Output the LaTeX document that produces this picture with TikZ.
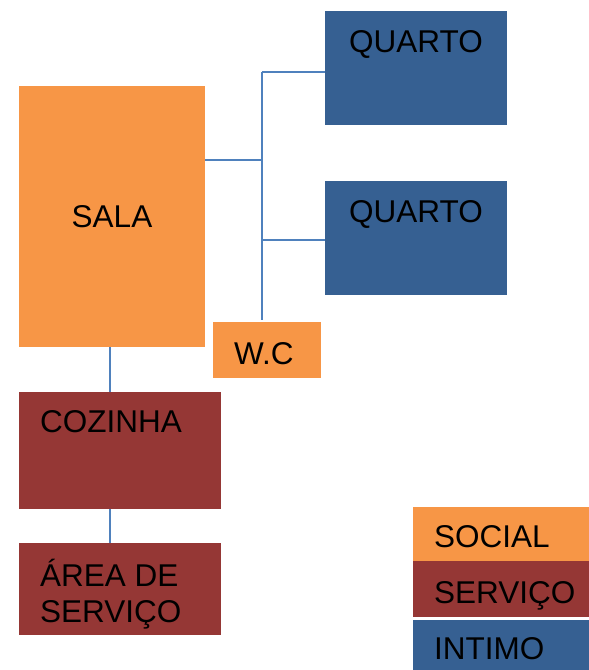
\documentclass[tikz,border=0pt]{standalone}
\usepackage{fontspec}
\setmainfont{Liberation Sans}
\definecolor{social}{HTML}{F79646}
\definecolor{servico}{HTML}{953735}
\definecolor{intimo}{HTML}{366092}
\definecolor{conn}{HTML}{4F81BD}
\begin{document}
\begin{tikzpicture}[x=1pt,y=-1pt,
  room/.style={rectangle, anchor=north west, inner sep=0pt, outer sep=0pt,
    font=\fontsize{31.5}{36}\selectfont, text=black},
  soc/.style={room, fill=social},
  srv/.style={room, fill=servico},
  int/.style={room, fill=intimo},
  lab/.style={inner sep=0pt, font=\fontsize{31.5}{36}\selectfont, text=black},
  link/.style={conn, line width=1.3pt}]
\useasboundingbox (0,0) rectangle (589,670);
% rooms
\node[soc, minimum width=186pt, minimum height=261pt] (sala) at (19,86) {SALA};
\node[int, minimum width=182pt, minimum height=114pt,
  label={[lab, anchor=base, yshift=-41pt]north:QUARTO}] (q1) at (325,11) {};
\node[int, minimum width=182pt, minimum height=114pt,
  label={[lab, anchor=base, yshift=-41pt]north:QUARTO}] (q2) at (325,181) {};
\node[soc, minimum width=108pt, minimum height=56pt,
  label={[lab, anchor=base west, xshift=21pt, yshift=-42pt]north west:W.C}] (wc) at (213,322) {};
\node[srv, minimum width=202pt, minimum height=117pt,
  label={[lab, anchor=base west, xshift=21pt, yshift=-40pt]north west:COZINHA}] (coz) at (19,392) {};
\node[srv, minimum width=202pt, minimum height=92pt,
  label={[lab, anchor=base west, align=left, xshift=21pt, yshift=-79pt]north west:ÁREA DE\\SERVIÇO}] (area) at (19,543) {};
% legend
\node[soc, minimum width=176pt, minimum height=54pt,
  label={[lab, anchor=base west, xshift=21pt, yshift=-40pt]north west:SOCIAL}] (lsoc) at (413,507) {};
\node[srv, minimum width=176pt, minimum height=56pt,
  label={[lab, anchor=base west, xshift=21pt, yshift=-42pt]north west:SERVIÇO}] (lsrv) at (413,561) {};
\node[int, minimum width=176pt, minimum height=50pt,
  label={[lab, anchor=base west, xshift=21pt, yshift=-39pt]north west:INTIMO}] (lint) at (413,620) {};
% connectors
\coordinate (jt) at (262,72);
\coordinate (jm) at (262,160);
\coordinate (j2) at (262,240);
\coordinate (jb) at (262,320);
\draw[link] (jt) -- (jb);
\draw[link] (sala.east |- jm) -- (jm);
\draw[link] (jt) -- (q1.west |- jt);
\draw[link] (j2) -- (q2.west |- j2);
\coordinate (cx) at (110,0);
\draw[link] (sala.south -| cx) -- (coz.north -| cx);
\draw[link] (coz.south -| cx) -- (area.north -| cx);
\end{tikzpicture}
\end{document}
